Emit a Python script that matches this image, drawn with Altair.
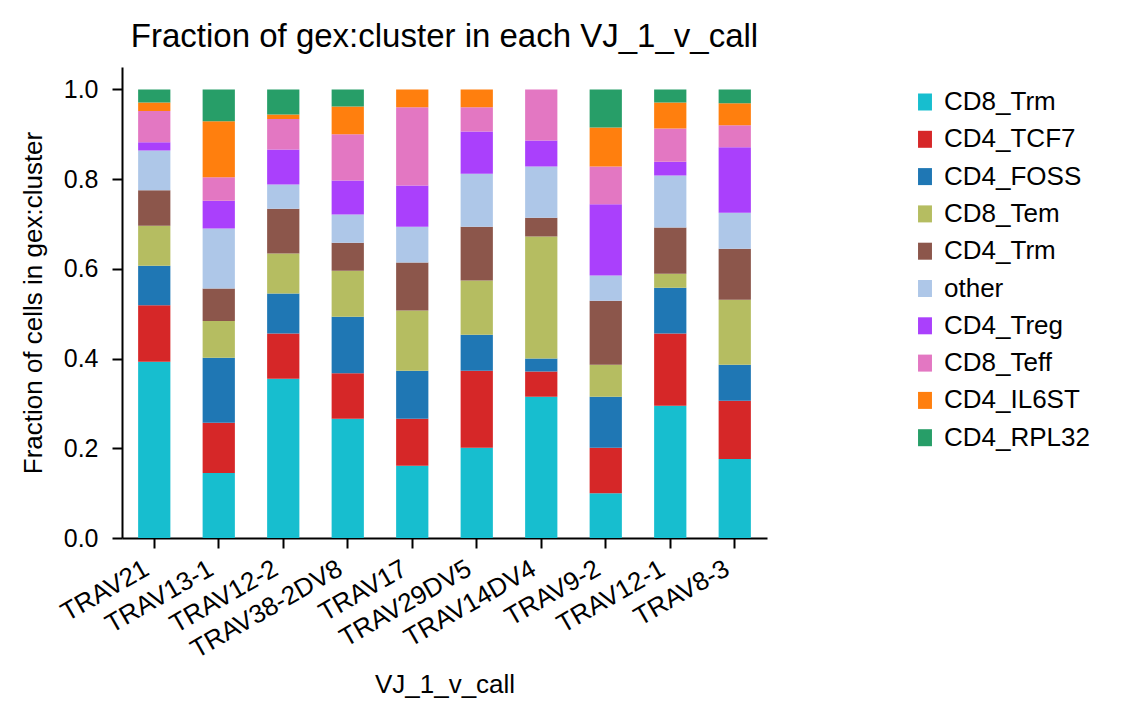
import altair as alt
import pandas as pd

bars = ["TRAV21", "TRAV13-1", "TRAV12-2", "TRAV38-2DV8", "TRAV17",
        "TRAV29DV5", "TRAV14DV4", "TRAV9-2", "TRAV12-1", "TRAV8-3"]
clusters = ["CD8_Trm", "CD4_TCF7", "CD4_FOSS", "CD8_Tem", "CD4_Trm",
            "other", "CD4_Treg", "CD8_Teff", "CD4_IL6ST", "CD4_RPL32"]
colors = ["#17becf", "#d62728", "#1f77b4", "#b5bd61", "#8c564b",
          "#aec7e8", "#aa40fc", "#e377c2", "#ff7f0e", "#279e68"]

CD8_Trm = [0.393, 0.145, 0.355, 0.266, 0.161, 0.201, 0.315, 0.100, 0.295, 0.176]
CD4_TCF7 = [0.126, 0.112, 0.101, 0.101, 0.105, 0.172, 0.056, 0.101, 0.161, 0.130]
CD4_FOSS = [0.088, 0.145, 0.089, 0.126, 0.107, 0.080, 0.029, 0.114, 0.102, 0.080]
CD8_Tem = [0.089, 0.082, 0.089, 0.103, 0.134, 0.121, 0.272, 0.071, 0.031, 0.145]
CD4_Trm = [0.079, 0.072, 0.100, 0.062, 0.107, 0.120, 0.042, 0.143, 0.103, 0.114]
other = [0.089, 0.134, 0.054, 0.063, 0.080, 0.118, 0.114, 0.056, 0.116, 0.080]
CD4_Treg = [0.018, 0.062, 0.078, 0.076, 0.092, 0.094, 0.058, 0.159, 0.031, 0.146]
CD8_Teff = [0.070, 0.052, 0.068, 0.103, 0.174, 0.054, 0.114, 0.084, 0.074, 0.049]
CD4_IL6ST = [0.019, 0.125, 0.010, 0.062, 0.040, 0.040, 0.000, 0.087, 0.058, 0.049]
CD4_RPL32 = [0.029, 0.071, 0.056, 0.038, 0.000, 0.000, 0.000, 0.085, 0.029, 0.031]

series = [CD8_Trm, CD4_TCF7, CD4_FOSS, CD8_Tem, CD4_Trm,
          other, CD4_Treg, CD8_Teff, CD4_IL6ST, CD4_RPL32]

rows = []
for ci, (name, vals) in enumerate(zip(clusters, series)):
    for b, v in zip(bars, vals):
        if v > 0:
            rows.append({"bar": b, "cluster": name, "frac": v, "idx": ci})
df = pd.DataFrame(rows)

FONT = "Liberation Sans"

chart = alt.Chart(df).mark_bar().encode(
    x=alt.X("bar:N", sort=bars, title="VJ_1_v_call",
            scale=alt.Scale(paddingInner=0.5, paddingOuter=0.25),
            axis=alt.Axis(labelAngle=-30, labelAlign="right", labelBaseline="top",
                          labelFontSize=26, titleFontSize=26, tickSize=10,
                          tickWidth=2, domainWidth=2, labelPadding=7,
                          labelOffset=-14,
                          titleX=322.5, titleY=154, titleBaseline="alphabetic",
                          titleAlign="center")),
    y=alt.Y("frac:Q", stack="zero", title="Fraction of cells in gex:cluster",
            scale=alt.Scale(domain=[0, 1.05], nice=False),
            axis=alt.Axis(values=[0, 0.2, 0.4, 0.6, 0.8, 1.0], format=".1f",
                          grid=False, labelFontSize=25, titleFontSize=26,
                          tickSize=10, tickWidth=2, domainWidth=2,
                          labelPadding=14, titleX=-81, titleY=235.5,
                          titleAngle=270, titleAlign="center",
                          titleBaseline="alphabetic")),
    color=alt.Color("cluster:N",
                    scale=alt.Scale(domain=clusters, range=colors),
                    legend=alt.Legend(title=None, orient="none", legendX=790,
                                      legendY=22, labelFontSize=26,
                                      symbolType="M-0.82,-1L0.82,-1L0.82,1L-0.82,1Z",
                                      symbolSize=289, symbolStrokeWidth=0,
                                      rowPadding=11.3, labelOffset=6, padding=0)),
    order=alt.Order("idx:Q", sort="ascending"),
).properties(
    width=645, height=471,
    title=alt.TitleParams("Fraction of gex:cluster in each VJ_1_v_call",
                          fontSize=33, font=FONT, fontWeight="normal",
                          anchor="middle", offset=13, color="black"),
    autosize=alt.AutoSizeParams(type="none"),
    padding={"left": 114, "top": 59, "right": 340, "bottom": 165},
).configure_view(stroke=None).configure_axis(
    labelFont=FONT, titleFont=FONT, labelColor="black", titleColor="black",
    domainColor="black", tickColor="black", titleFontWeight="normal",
).configure_legend(labelFont=FONT, labelColor="black")

chart.save("out.html", embed_options={"renderer": "svg", "actions": False})
